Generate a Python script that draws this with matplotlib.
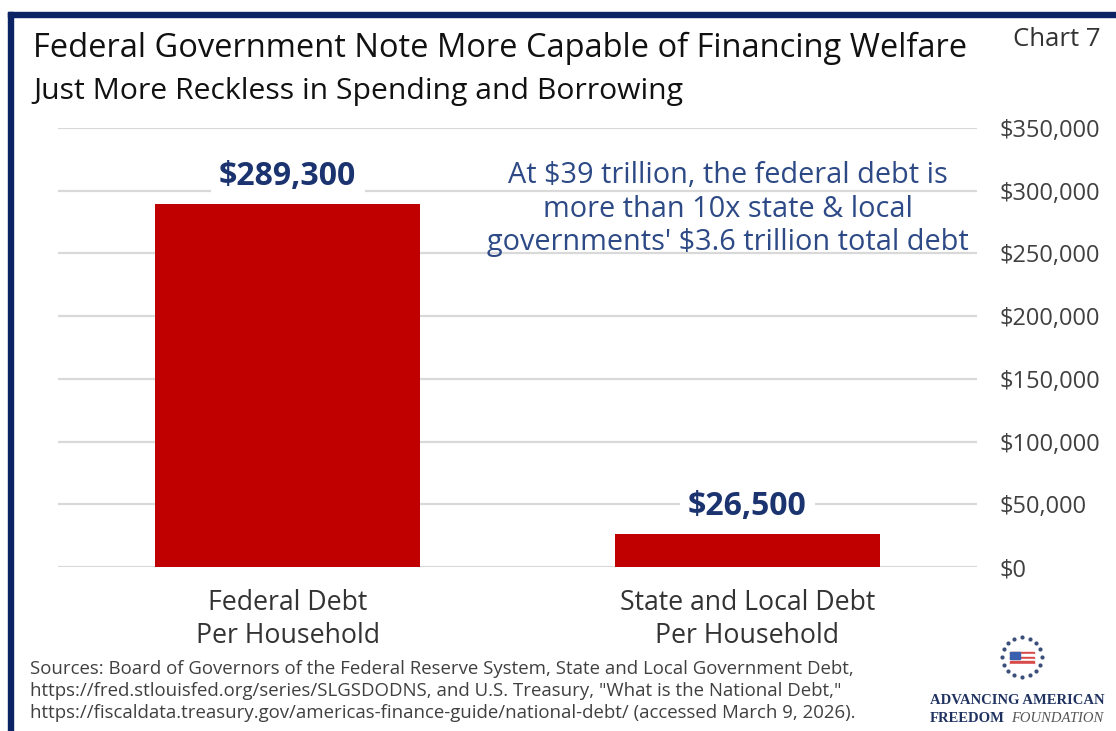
import numpy as np
import matplotlib.pyplot as plt
from matplotlib.patches import Rectangle

# debt per household, in dollars
categories = ['Federal Debt\nPer Household', 'State and Local Debt\nPer Household']
debt_per_household = [289300, 26500]
value_labels = ['$289,300', '$26,500']
y_ticks = [0, 50000, 100000, 150000, 200000, 250000, 300000, 350000]

navy = '#0b2265'
label_navy = '#1b3470'
note_blue = '#2d4a86'
bar_red = '#c00000'
grid_grey = '#d9d9d9'
text_grey = '#404040'

plt.rcParams['font.family'] = ['Open Sans', 'DejaVu Sans']

fig = plt.figure(figsize=(11.16, 7.31), dpi=100)
W, H = 1116, 731


def fx(px):
    return px / W


def fy(py):
    return 1 - py / H


ax = fig.add_axes([fx(58), fy(567), fx(977) - fx(58), fy(128) - fy(567)])
x = np.arange(len(categories))
ax.bar(x, debt_per_household, width=0.576, color=bar_red, zorder=2)
ax.set_xlim(-0.5, 1.5)
ax.set_ylim(0, 350000)
ax.set_yticks(y_ticks)
ax.set_yticklabels(['${:,}'.format(v) for v in y_ticks])
ax.yaxis.tick_right()
ax.tick_params(axis='y', length=0, pad=16, labelsize=17, labelcolor=text_grey)
for lab in ax.get_yticklabels():
    lab.set_horizontalalignment('left')
ax.grid(axis='y', color=grid_grey, linewidth=1.6, zorder=0)
ax.set_xticks(x)
ax.set_xticklabels(categories, fontsize=19.2, color='#333333', linespacing=1.22)
ax.tick_params(axis='x', length=0, pad=16)
for s in ax.spines.values():
    s.set_visible(False)

# value labels above each bar, white box hides the gridline behind them
for xi, v, txt in zip(x, debt_per_household, value_labels):
    ax.annotate(txt, (xi, v), xytext=(0, 8), textcoords='offset points',
                ha='center', va='bottom', fontsize=23, fontweight='bold', color=label_navy,
                bbox=dict(facecolor='white', edgecolor='none', pad=6), zorder=3)

ax.text(0.958, 285400,
        "At $39 trillion, the federal debt is\nmore than 10x state & local\ngovernments' $3.6 trillion total debt",
        ha='center', va='center', fontsize=20.8, color=note_blue, linespacing=1.22, zorder=3)

# titles
fig.text(fx(33), fy(48), 'Federal Government Note More Capable of Financing Welfare',
         fontsize=23.5, color='#111111', va='center', ha='left')
fig.text(fx(33), fy(91), 'Just More Reckless in Spending and Borrowing',
         fontsize=21.7, color='#111111', va='center', ha='left')
fig.text(fx(1013), fy(39), 'Chart 7', fontsize=18.5, color='#333333', va='center', ha='left')

fig.text(fx(30), fy(691),
         'Sources: Board of Governors of the Federal Reserve System, State and Local Government Debt,\n'
         'https://fred.stlouisfed.org/series/SLGSDODNS, and U.S. Treasury, "What is the National Debt,"\n'
         'https://fiscaldata.treasury.gov/americas-finance-guide/national-debt/ (accessed March 9, 2026).',
         fontsize=13.4, color=text_grey, va='center', ha='left', linespacing=1.3)

# frame along top and left edges
fig.patches.append(Rectangle((fx(8), fy(17)), 1 - fx(8), fy(12) - fy(17),
                             transform=fig.transFigure, color=navy, zorder=5))
fig.patches.append(Rectangle((fx(8), 0), fx(13) - fx(8), fy(12),
                             transform=fig.transFigure, color=navy, zorder=5))

# logo: ring of stars around a small flag
cx, cy, r = 1022, 657, 20
ang = np.linspace(0, 2 * np.pi, 16, endpoint=False)
fig.add_artist(plt.Line2D([fx(cx + r * np.cos(a)) for a in ang],
                          [fy(cy + r * np.sin(a)) for a in ang],
                          transform=fig.transFigure, linestyle='none',
                          marker='o', markersize=2.0, color='#3a4f78'))
for i in range(6):
    col = '#d94a4a' if i % 2 == 0 else 'white'
    fig.patches.append(Rectangle((fx(1010), fy(652 + 2.3 * (i + 1))), fx(1034) - fx(1010), 2.3 / H,
                                 transform=fig.transFigure, color=col))
fig.patches.append(Rectangle((fx(1010), fy(659)), fx(1020) - fx(1010), 7 / H,
                             transform=fig.transFigure, color='#3a5fae'))
fig.text(fx(930), fy(700), 'ADVANCING AMERICAN', family='Liberation Serif', fontweight='bold',
         fontsize=10.5, color='#1f3260', ha='left', va='center')
fig.text(fx(930), fy(718), 'FREEDOM', family='Liberation Serif', fontweight='bold',
         fontsize=10.5, color='#1f3260', ha='left', va='center')
fig.text(fx(1011), fy(718), 'FOUNDATION', family='Liberation Serif', style='italic',
         fontsize=10.5, color='#555555', ha='left', va='center')

fig.savefig('out.png', dpi=100, facecolor='white')
